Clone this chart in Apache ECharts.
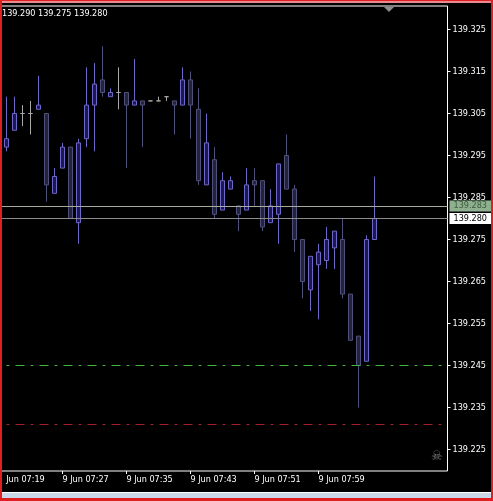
<!DOCTYPE html>
<html>
<head>
<meta charset="utf-8">
<style>html,body{margin:0;padding:0;background:#000;overflow:hidden}#c{width:493px;height:501px}</style>
<script src="https://cdn.jsdelivr.net/npm/echarts@6/dist/echarts.min.js"></script>
</head>
<body>
<div id="c"></div>
<script>
var FONT = '"DejaVu Sans Condensed","DejaVu Sans",sans-serif';
var opens  = [139.297,139.301,139.305,139.305,139.306,139.305,139.286,139.292,139.297,139.279,139.299,139.307,139.313,139.309,139.310,139.310,139.307,139.308,139.308,139.308,139.309,139.308,139.307,139.313,139.306,139.288,139.294,139.282,139.287,139.283,139.282,139.289,139.289,139.279,139.281,139.295,139.287,139.275,139.263,139.269,139.270,139.273,139.275,139.262,139.252,139.246,139.275];
var closes = [139.299,139.305,139.305,139.305,139.307,139.288,139.290,139.297,139.280,139.298,139.307,139.312,139.310,139.310,139.310,139.307,139.308,139.307,139.308,139.308,139.309,139.307,139.313,139.307,139.289,139.298,139.281,139.289,139.289,139.281,139.288,139.288,139.278,139.283,139.293,139.287,139.275,139.265,139.271,139.272,139.275,139.277,139.262,139.251,139.245,139.275,139.280];
var lows   = [139.296,139.301,139.302,139.300,139.306,139.284,139.286,139.292,139.280,139.274,139.297,139.296,139.309,139.309,139.306,139.292,139.307,139.297,139.308,139.308,139.308,139.300,139.307,139.299,139.288,139.288,139.280,139.282,139.287,139.277,139.282,139.283,139.277,139.279,139.274,139.287,139.272,139.261,139.258,139.256,139.268,139.268,139.261,139.251,139.235,139.246,139.275];
var highs  = [139.309,139.309,139.307,139.308,139.314,139.305,139.292,139.298,139.297,139.299,139.316,139.317,139.321,139.311,139.316,139.310,139.318,139.308,139.308,139.309,139.309,139.308,139.316,139.315,139.311,139.305,139.297,139.291,139.290,139.283,139.292,139.292,139.289,139.287,139.293,139.300,139.288,139.275,139.271,139.274,139.278,139.277,139.280,139.262,139.252,139.276,139.290];
var priceTicks = [139.325,139.315,139.305,139.295,139.285,139.275,139.265,139.255,139.245,139.235,139.225];
var timeTicks  = [-1,7,15,23,31,39];
var timeLabels = ['9 Jun 07:19','9 Jun 07:27','9 Jun 07:35','9 Jun 07:43','9 Jun 07:51','9 Jun 07:59'];
var header = '139.290 139.275 139.280';
var askLine = 139.283, bidLine = 139.280, greenLine = 139.245, redLine = 139.231;

var candles = opens.map(function(o,i){ return [i,o,closes[i],lows[i],highs[i]]; });
var dash = {type:[9,6,3,6], dashOffset:7};
var chart = echarts.init(document.getElementById('c'),null,{renderer:'canvas'});
chart.setOption({
  animation:false,
  backgroundColor:'#000',
  grid:{left:-1.5,right:45.5,top:6,height:465,show:true,borderColor:'#fff',borderWidth:1,backgroundColor:'#000',outerBoundsMode:'none'},
  xAxis:{
    type:'value',min:-1,max:55.125,
    axisLine:{show:false,onZero:false},
    splitLine:{show:false},
    axisTick:{show:true,length:3,customValues:timeTicks,lineStyle:{color:'#fff',width:1}},
    axisLabel:{show:true,customValues:timeTicks,align:'left',margin:4,color:'#fff',fontFamily:FONT,fontSize:9,hideOverlap:false,
      formatter:function(v){return timeLabels[timeTicks.indexOf(v)];}}
  },
  yAxis:{
    type:'value',position:'right',
    min:139.325-441.5/4200,max:139.325+23.5/4200,scale:true,
    axisLine:{show:false,onZero:false},
    splitLine:{show:false},
    axisTick:{show:true,length:3,customValues:priceTicks,lineStyle:{color:'#fff',width:1}},
    axisLabel:{show:true,customValues:priceTicks,margin:5,color:'#fff',fontFamily:FONT,fontSize:9,hideOverlap:false,
      formatter:function(v){return v.toFixed(3);}}
  },
  series:[{
    type:'candlestick',
    barWidth:5,
    clip:true,
    data:candles,
    encode:{x:0,y:[1,2,3,4]},
    itemStyle:{color:'#1a1a50',color0:'#23233a',borderColor:'#6e66c8',borderColor0:'#50507c',borderColorDoji:'#a8a8a8',borderWidth:1},
    markLine:{
      silent:true,symbol:'none',animation:false,precision:3,
      data:[
        {yAxis:askLine,lineStyle:{color:'#a8aca0',width:1,type:'solid'},
         label:{show:true,position:'end',distance:2,formatter:'139.283',color:'#3c5a3c',backgroundColor:'#8fb08f',padding:[1,6,1,4],fontFamily:FONT,fontSize:9}},
        {yAxis:bidLine,lineStyle:{color:'#8c8c8c',width:1,type:'solid'},
         label:{show:true,position:'end',distance:2,formatter:'139.280',color:'#000',backgroundColor:'#fff',padding:[1,6,1,4],fontFamily:FONT,fontSize:9}},
        {yAxis:greenLine,lineStyle:Object.assign({color:'#40b840',width:1},dash),label:{show:false}},
        {yAxis:redLine,lineStyle:Object.assign({color:'#a5202f',width:1},dash),label:{show:false}}
      ]
    }
  }],
  graphic:[
    {type:'rect',silent:true,z:49,shape:{x:0,y:473,width:4,height:15},style:{fill:'#000'}},
    {type:'rect',silent:true,z:50,shape:{x:0,y:0,width:493,height:3},style:{fill:'#e88a90'}},
    {type:'rect',silent:true,z:51,shape:{x:0,y:0,width:493,height:1},style:{fill:'#e02020'}},
    {type:'rect',silent:true,z:50,shape:{x:0,y:0,width:2,height:501},style:{fill:'#e02020'}},
    {type:'rect',silent:true,z:50,shape:{x:491,y:0,width:2,height:501},style:{fill:'#e02020'}},
    {type:'rect',silent:true,z:50,shape:{x:2,y:492,width:489,height:1},style:{fill:'#ffffff'}},
    {type:'rect',silent:true,z:50,shape:{x:2,y:493,width:489,height:5},style:{fill:'#c8d8e8'}},
    {type:'rect',silent:true,z:50,shape:{x:0,y:498,width:493,height:3},style:{fill:'#e02020'}},
    {type:'polygon',silent:true,z:50,shape:{points:[[384,7],[394,7],[389,12]]},style:{fill:'#8c8c8c'}},
    {type:'text',silent:true,z:50,x:2,y:9,style:{text:header,fill:'#fff',font:'9px '+FONT}},
    {type:'text',silent:true,z:50,x:431,y:450,style:{text:'\u2620',fill:'#777777',font:'13px "DejaVu Sans"'}}
  ]
});
</script>
</body>
</html>
